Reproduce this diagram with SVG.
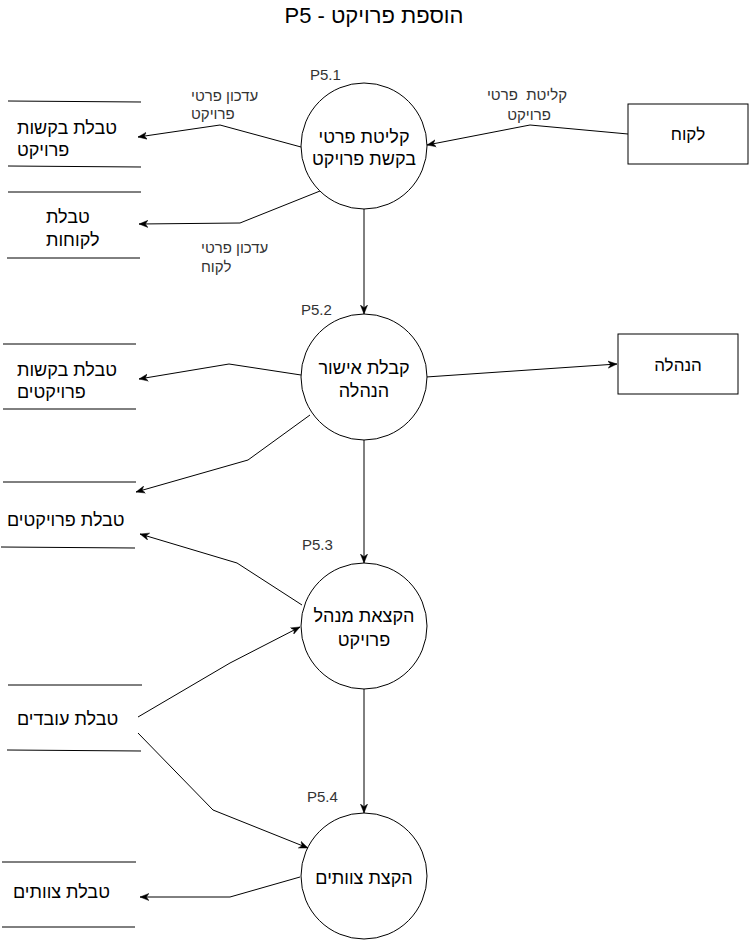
<svg xmlns="http://www.w3.org/2000/svg" width="749" height="940" viewBox="0 0 749 940">
<style>
text{font-family:"Liberation Sans",Arial,"DejaVu Sans",sans-serif;fill:#000}
.t{font-size:18px}
.e{font-size:17px}
.c{text-anchor:middle}
.s{font-size:15px;fill:#333}
.shape{fill:#fff;stroke:#000;stroke-width:1}
.store line{stroke:#000;stroke-width:1}
#connectors path{fill:none;stroke:#000;stroke-width:1;marker-end:url(#arr)}
</style>
<defs>
<marker id="arr" viewBox="0 0 10 10" refX="10" refY="5" markerWidth="9" markerHeight="9" markerUnits="userSpaceOnUse" orient="auto">
<path d="M0,1 L10,5 L0,9 L3,5 z" fill="#000" stroke="#000" stroke-width="0.5"/>
</marker>
</defs>
<rect width="749" height="940" fill="#fff"/>
<text x="374" y="23" class="c" style="font-size:22px" direction="rtl" unicode-bidi="embed">הוספת פרויקט - P5</text>

<g id="connectors">
<path d="M628,134 L530,125 L427,145"/>
<path d="M301,147 L220,125 L138,137"/>
<path d="M320,191 L240,223 L139,224"/>
<path d="M364,209 L364,314"/>
<path d="M301,375 L229,364 L139,379"/>
<path d="M426,377 L617,364"/>
<path d="M310,415 L248,460 L136,492"/>
<path d="M364,440 L364,563"/>
<path d="M302,605 L237,563 L140,534"/>
<path d="M138,717 L230,663 L300,627"/>
<path d="M138,733 L213,810 L308,848"/>
<path d="M364,689 L364,813"/>
<path d="M300,877 L230,897 L140,897"/>
<text x="527" y="100" class="s c" style="white-space:pre">קליטת  פרטי</text>
<text x="529" y="120" class="s c">פרויקט</text>
<text x="191" y="101" class="s">עדכון פרטי</text>
<text x="191" y="119" class="s">פרויקט</text>
<text x="201" y="253" class="s">עדכון פרטי</text>
<text x="201" y="272" class="s">לקוח</text>
</g>

<g id="p51">
<circle cx="364" cy="146" r="63" class="shape"/>
<text x="310" y="80" class="s">P5.1</text>
<text x="364" y="143" class="t c">קליטת פרטי</text>
<text x="364" y="165" class="t c">בקשת פרויקט</text>
</g>
<g id="p52">
<circle cx="364" cy="377" r="63" class="shape"/>
<text x="301" y="315" class="s">P5.2</text>
<text x="364" y="374" class="t c">קבלת אישור</text>
<text x="364" y="397" class="t c">הנהלה</text>
</g>
<g id="p53">
<circle cx="364" cy="626" r="63" class="shape"/>
<text x="302" y="550" class="s">P5.3</text>
<text x="364" y="622" class="t c">הקצאת מנהל</text>
<text x="364" y="646" class="t c">פרויקט</text>
</g>
<g id="p54">
<circle cx="364" cy="876" r="63" class="shape"/>
<text x="307" y="802" class="s">P5.4</text>
<text x="364" y="884" class="t c">הקצת צוותים</text>
</g>

<g id="client">
<rect x="628" y="104" width="120" height="60" class="shape"/>
<text x="688" y="140" class="e c">לקוח</text>
</g>
<g id="management">
<rect x="618" y="334" width="120" height="60" class="shape"/>
<text x="678" y="371" class="e c">הנהלה</text>
</g>

<g id="store1" class="store">
<line x1="8" y1="101" x2="141" y2="102"/>
<line x1="8" y1="166" x2="141" y2="167"/>
<text x="17" y="134" class="t">טבלת בקשות</text>
<text x="17" y="156" class="t">פרויקט</text>
</g>
<g id="store2" class="store">
<line x1="8" y1="192" x2="141" y2="192"/>
<line x1="7" y1="258" x2="140" y2="258"/>
<text x="46" y="223" class="t">טבלת</text>
<text x="46" y="246" class="t">לקוחות</text>
</g>
<g id="store3" class="store">
<line x1="3" y1="344" x2="136" y2="344"/>
<line x1="3" y1="409" x2="136" y2="409"/>
<text x="17" y="376" class="t">טבלת בקשות</text>
<text x="17" y="398" class="t">פרויקטים</text>
</g>
<g id="store4" class="store">
<line x1="3" y1="482" x2="136" y2="482"/>
<line x1="1" y1="547" x2="135" y2="548"/>
<text x="7" y="526" class="t">טבלת פרויקטים</text>
</g>
<g id="store5" class="store">
<line x1="8" y1="685" x2="142" y2="685"/>
<line x1="7" y1="750" x2="141" y2="751"/>
<text x="17" y="725" class="t">טבלת עובדים</text>
</g>
<g id="store6" class="store">
<line x1="2" y1="862" x2="136" y2="862"/>
<line x1="2" y1="927" x2="135" y2="927"/>
<text x="13" y="898" class="t">טבלת צוותים</text>
</g>
</svg>
